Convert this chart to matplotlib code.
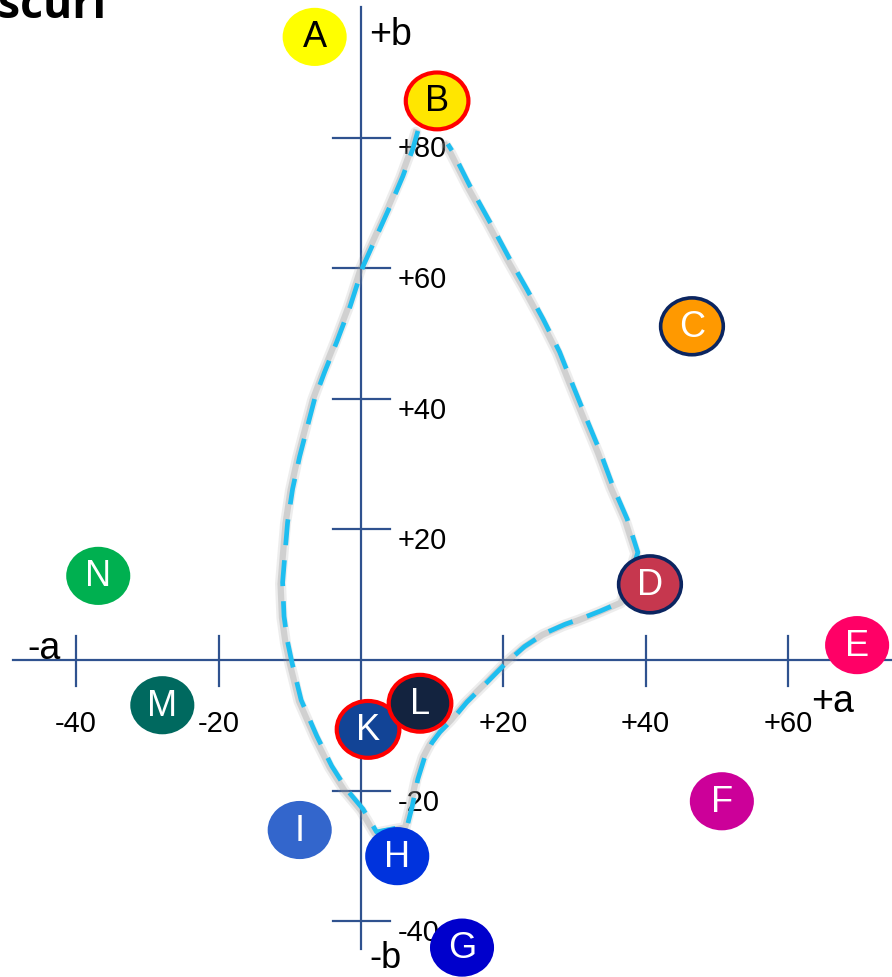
import matplotlib.pyplot as plt
import matplotlib.transforms as mtransforms
from matplotlib.patches import Ellipse

# Colour points on the a*/b* plane
labels = ['A', 'B', 'C', 'D', 'E', 'F', 'G', 'H', 'I', 'K', 'L', 'M', 'N']
a_vals = [-6.5, 10.7, 46.5, 40.6, 69.7, 50.7, 14.2, 5.1, -8.6, 1.0, 8.3, -27.9, -36.9]
b_vals = [95.4, 85.6, 51.1, 11.6, 2.3, -21.6, -44.0, -30.0, -26.0, -10.6, -6.6, -6.9, 12.9]
fills = ['#FFFF00', '#FFE600', '#FF9900', '#C6374E', '#FF0066', '#CC0099', '#0000CC',
         '#0033DD', '#3366CC', '#124496', '#13233F', '#00695F', '#00B050']
edges = [None, '#FF0000', '#0B2560', '#0B2560', None, None, None,
         None, None, '#FF0000', '#FF0000', None, None]
text_colors = ['black', 'black'] + ['white'] * 11

# Gamut outline (dashed): B -> left side -> H -> up to D -> back up to B
path_a = [8.0, 7.3, 5.9, 4.1, 2.2, 0.3, -1.5, -3.4, -5.1, -6.5, -7.6, -8.6, -9.6, -10.3,
          -10.7, -11.0, -10.8, -10.3, -9.7, -8.4, -6.2, -4.1, -2.0, 0.3, 2.2,
          6.5, 7.2, 8.0, 9.0, 10.0, 11.1, 12.9, 14.9, 17.7, 20.5, 23.0, 25.8, 28.7,
          30.8, 33.6, 36.8,
          38.9, 37.4, 35.4, 33.6, 31.7, 29.8, 27.9, 25.6, 23.3, 20.9, 18.1, 15.3, 12.9, 12.2]
path_b = [81.0, 78.3, 74.1, 69.5, 64.9, 60.3, 54.2, 48.7, 44.1, 40.0, 35.4, 31.2, 26.2, 21.1,
          15.9, 11.9, 6.7, 2.8, -0.3, -6.1, -11.6, -16.2, -19.8, -22.8, -26.3,
          -25.4, -22.4, -18.2, -14.7, -12.6, -11.0, -9.0, -6.4, -3.4, -0.3, 2.1, 4.1, 5.5,
          6.3, 7.5, 9.0,
          16.5, 21.6, 26.6, 31.9, 36.9, 42.0, 47.2, 52.2, 56.8, 61.4, 67.1, 72.6, 77.8, 79.0]

x_ticks = [-40, -20, 20, 40, 60]
x_tick_labels = ['-40', '-20', '+20', '+40', '+60']
y_ticks = [80, 60, 40, 20, -20, -40]
y_tick_labels = ['+80', '+60', '+40', '+20', '-20', '-40']

axis_color = '#2F528F'
font = 'Liberation Sans'

fig = plt.figure(figsize=(8.92, 9.78), dpi=100)
ax = fig.add_axes([0, 0, 1, 1])
ax.set_xlim(-50.7, 74.6)
ax.set_ylim(-48.5, 101.2)
ax.axis('off')

# axes cross
ax.plot([-48.9, 74.6], [0, 0], color=axis_color, lw=1.6, zorder=2)
ax.plot([0, 0], [-44.2, 100.0], color=axis_color, lw=1.6, zorder=2)
for t, lab in zip(x_ticks, x_tick_labels):
    ax.plot([t, t], [3.7, -4.0], color=axis_color, lw=1.6, zorder=2)
    ax.text(t, -10.9, lab, ha='center', va='baseline', fontsize=21, family=font, zorder=3)
for t, lab in zip(y_ticks, y_tick_labels):
    ax.plot([-3.9, 4.1], [t, t], color=axis_color, lw=1.6, zorder=2)
    ax.text(5.2, t - 2.9, lab, ha='left', va='baseline', fontsize=21, family=font, zorder=3)

ax.text(1.2, 94.3, '+b', ha='left', va='baseline', fontsize=27, family=font, zorder=3)
ax.text(1.2, -47.0, '-b', ha='left', va='baseline', fontsize=26, family=font, zorder=3)
ax.text(-46.8, 0.3, '-a', ha='left', va='baseline', fontsize=27, family=font, zorder=3)
ax.text(63.3, -7.8, '+a', ha='left', va='baseline', fontsize=27, family=font, zorder=6)

# dashed outline with a soft grey shadow
shadow = mtransforms.offset_copy(ax.transData, fig=fig, x=-1.5, y=-1.0, units='points')
ax.plot(path_a, path_b, color='#A0A0A0', lw=8, alpha=0.18, transform=shadow,
        solid_joinstyle='round', solid_capstyle='round', zorder=3)
ax.plot(path_a, path_b, color='#909090', lw=4.5, alpha=0.3, transform=shadow,
        solid_joinstyle='round', zorder=3)
ax.plot(path_a, path_b, color='#1EBEF0', lw=3.4, linestyle=(0, (5.5, 3.2)), zorder=4)

# colour points
for lab, a, b, fc, ec, tc in zip(labels, a_vals, b_vals, fills, edges, text_colors):
    if ec is None:
        e = Ellipse((a, b), 9.0, 8.9, facecolor=fc, edgecolor='none', zorder=5)
    else:
        lw = 3 if ec == '#FF0000' else 2.6
        e = Ellipse((a, b), 8.8, 8.7, facecolor=fc, edgecolor=ec, lw=lw, zorder=5)
    ax.add_patch(e)
    ax.text(a, b, lab, ha='center', va='center', fontsize=26, color=tc,
            family=font, zorder=6)

# cut-off title at the top left
fig.text(-0.002, 1 - 18 / 978, 'scuri', ha='left', va='baseline', fontsize=32,
         fontweight='bold', family='Open Sans')

fig.savefig('out.png', dpi=100)
